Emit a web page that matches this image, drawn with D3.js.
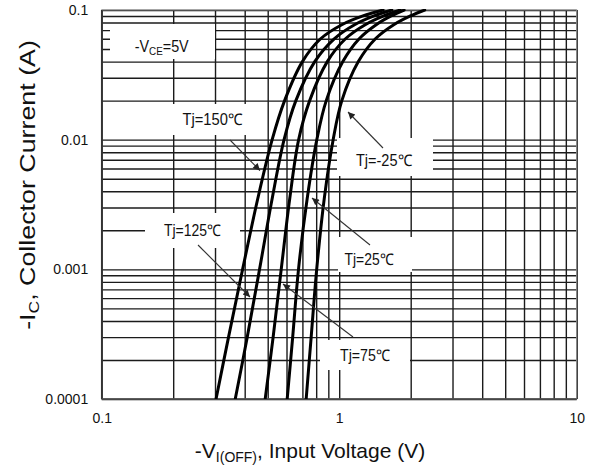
<!DOCTYPE html>
<html><head><meta charset="utf-8">
<script src="https://cdn.jsdelivr.net/npm/d3@7"></script>
<style>body{margin:0;background:#fff} svg{display:block}</style>
</head><body><svg id="c" width="592" height="468"></svg>
<script>
// ---- data ----
const currentA = [0.0001, 0.0003, 0.001, 0.0035, 0.01, 0.02, 0.04, 0.06, 0.077, 0.09, 0.1];
const vTj150  = [0.303, 0.342, 0.392, 0.454, 0.522, 0.589, 0.700, 0.835, 1.026, 1.259, 1.530];
const vTj125  = [0.365, 0.410, 0.462, 0.522, 0.586, 0.657, 0.789, 0.953, 1.161, 1.402, 1.665];
const vTj75   = [0.488, 0.527, 0.570, 0.619, 0.675, 0.751, 0.891, 1.063, 1.287, 1.540, 1.807];
const vTj25   = [0.604, 0.637, 0.674, 0.733, 0.805, 0.882, 1.036, 1.214, 1.431, 1.655, 1.877];
const vTjM25  = [0.726, 0.762, 0.804, 0.865, 0.943, 1.026, 1.204, 1.421, 1.697, 1.995, 2.291];
const seriesNames = ["Tj=150℃", "Tj=125℃", "Tj=75℃", "Tj=25℃", "Tj=-25℃"];
const seriesValues = [vTj150, vTj125, vTj75, vTj25, vTjM25];
const xTickValues = [0.1, 1, 10];
const xTickLabels = ["0.1", "1", "10"];
const yTickValues = [0.0001, 0.001, 0.01, 0.1];
const yTickLabels = ["0.0001", "0.001", "0.01", "0.1"];

// ---- layout ----
const W = 592, H = 468;
const m = {left: 101.7, top: 10, right: 592 - 576.7, bottom: 468 - 399};
const pw = W - m.left - m.right, ph = H - m.top - m.bottom;
const svg = d3.select("#c");
const x = d3.scaleLog().domain([0.1, 10]).range([m.left, W - m.right]);
const y = d3.scaleLog().domain([0.0001, 0.1]).range([H - m.bottom, m.top]);

const gridX = [], gridY = [];
[0.1, 1].forEach(d => { for (let k = 1; k <= 9; k++) gridX.push(d * k); }); gridX.push(10);
[0.0001, 0.001, 0.01].forEach(d => { for (let k = 1; k <= 9; k++) gridY.push(d * k); }); gridY.push(0.1);

const GRID = "#1b1b1b";
const gx = svg.append("g").attr("transform", `translate(0,${H - m.bottom})`)
  .call(d3.axisBottom(x).tickValues(gridX).tickSize(-ph).tickFormat(""));
gx.select(".domain").remove();
gx.selectAll("line").attr("stroke", GRID).attr("stroke-width", 1.4);
const gy = svg.append("g").attr("transform", `translate(${m.left},0)`)
  .call(d3.axisLeft(y).tickValues(gridY).tickSize(-pw).tickFormat(""));
gy.select(".domain").remove();
gy.selectAll("line").attr("stroke", GRID).attr("stroke-width", 1.4);

// frame
svg.append("rect").attr("x", m.left).attr("y", m.top).attr("width", pw).attr("height", ph)
  .attr("fill", "none").attr("stroke", "#888").attr("stroke-width", 1);
svg.append("line").attr("x1", m.left).attr("x2", m.left).attr("y1", m.top).attr("y2", H - m.bottom)
  .attr("stroke", "#333").attr("stroke-width", 1.5);
svg.append("line").attr("x1", m.left).attr("x2", W - m.right).attr("y1", H - m.bottom).attr("y2", H - m.bottom)
  .attr("stroke", "#444").attr("stroke-width", 1.5);

// tick labels
const FONT = "'Liberation Sans', Arial, sans-serif";
const ax = svg.append("g").attr("transform", `translate(0,${H - m.bottom})`)
  .call(d3.axisBottom(x).tickValues(xTickValues).tickSize(0).tickPadding(14)
    .tickFormat((d, i) => xTickLabels[i]));
ax.select(".domain").remove();
ax.selectAll("text").attr("font-family", FONT).attr("font-size", 14).attr("fill", "#111");
const ay = svg.append("g").attr("transform", `translate(${m.left},0)`)
  .call(d3.axisLeft(y).tickValues(yTickValues).tickSize(0).tickPadding(13.5)
    .tickFormat((d, i) => yTickLabels[i]));
ay.select(".domain").remove();
ay.selectAll("text").attr("font-family", FONT).attr("font-size", 14).attr("fill", "#111");

// annotation boxes (pixel layout)
const notes = [
  {box: [110, 24, 105, 35], tx: 161.7, ty: 51.5, parts: [["-V", 0], ["CE", 1], ["=5V", 0]], w: 54},
  {box: [172, 104, 75, 31], tx: 212.5, ty: 124.5, parts: [[seriesNames[0], 0]], w: 60, arrow: [230, 140, 260, 170.5]},
  {box: [337, 138, 96, 38], tx: 384, ty: 166, parts: [[seriesNames[4], 0]], w: 56, arrow: [383, 148, 348, 112]},
  {box: [145, 213, 95, 35], tx: 192.5, ty: 235.5, parts: [[seriesNames[1], 0]], w: 57, arrow: [198, 245, 250, 297]},
  {box: [338, 237, 74, 35], tx: 369, ty: 264.5, parts: [[seriesNames[3], 0]], w: 49, arrow: [370, 245, 312, 198]},
  {box: [320, 340, 90, 30], tx: 365, ty: 360.5, parts: [[seriesNames[2], 0]], w: 50, arrow: [353, 337, 283, 284]}
];
svg.append("g").selectAll("rect").data(notes).join("rect")
  .attr("x", d => d.box[0]).attr("y", d => d.box[1]).attr("width", d => d.box[2]).attr("height", d => d.box[3])
  .attr("fill", "#fff");

// curves
svg.append("clipPath").attr("id", "clip").append("rect")
  .attr("x", m.left).attr("y", m.top - 1).attr("width", pw).attr("height", ph + 1);
const line = d3.line().x(d => x(d[0])).y(d => y(d[1])).curve(d3.curveCatmullRom.alpha(0.5));
svg.append("g").attr("clip-path", "url(#clip)").selectAll("path")
  .data(seriesValues.map(v => v.map((vv, i) => [vv, currentA[i]])))
  .join("path").attr("d", line).attr("fill", "none").attr("stroke", "#000")
  .attr("stroke-width", 3).attr("stroke-linecap", "round");

// arrows
svg.append("defs").append("marker").attr("id", "ah").attr("viewBox", "0 0 10 10")
  .attr("refX", 10).attr("refY", 5).attr("markerWidth", 9).attr("markerHeight", 7)
  .attr("markerUnits", "userSpaceOnUse").attr("orient", "auto")
  .append("path").attr("d", "M0,0L10,5L0,10z").attr("fill", "#222");
svg.append("g").selectAll("line").data(notes.filter(d => d.arrow)).join("line")
  .attr("x1", d => d.arrow[0]).attr("y1", d => d.arrow[1]).attr("x2", d => d.arrow[2]).attr("y2", d => d.arrow[3])
  .attr("stroke", "#333").attr("stroke-width", 1.1).attr("marker-end", "url(#ah)");

// annotation texts
notes.forEach(n => {
  const t = svg.append("text").attr("x", n.tx).attr("y", n.ty).attr("text-anchor", "middle")
    .attr("font-family", FONT).attr("font-size", 16).attr("fill", "#111");
  n.parts.forEach(([s, sub], i) => {
    const ts = t.append("tspan").text(s);
    if (sub) ts.attr("font-size", 11).attr("dy", 3);
    else if (i > 0) ts.attr("dy", -3);
  });
  t.attr("textLength", n.w).attr("lengthAdjust", "spacingAndGlyphs");
});

// axis titles
const xt = svg.append("text").attr("x", 310).attr("y", 458).attr("text-anchor", "middle")
  .attr("font-family", FONT).attr("font-size", 21).attr("fill", "#111");
xt.append("tspan").text("-V");
xt.append("tspan").text("I(OFF)").attr("font-size", 14).attr("dy", 4);
xt.append("tspan").text(", Input Voltage (V)").attr("dy", -4);

const yt = svg.append("text").attr("text-anchor", "middle")
  .attr("font-family", FONT).attr("font-size", 23).attr("fill", "#111");
yt.append("tspan").text("-I");
yt.append("tspan").text("C").attr("font-size", 15).attr("dy", 4);
yt.append("tspan").text(", Collector Current (A)").attr("dy", -4);
const yLen = yt.node().getBBox().width;
yt.attr("transform", `translate(35,185) rotate(-90) scale(${290 / yLen},1)`);
</script></body></html>
